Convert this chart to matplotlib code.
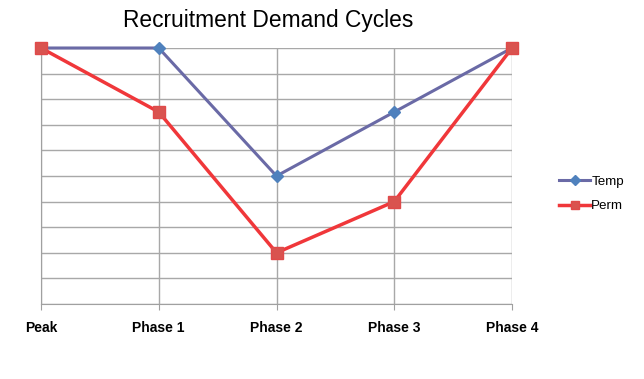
import numpy as np
import matplotlib.pyplot as plt

plt.rcParams['font.family'] = ['Liberation Sans', 'DejaVu Sans']

# Data
phases = ["Peak", "Phase 1", "Phase 2", "Phase 3", "Phase 4"]
temp = [10, 10, 5, 7.5, 10]
perm = [10, 7.5, 2, 4, 10]

fig = plt.figure(figsize=(6.44, 3.79), dpi=100)
ax = fig.add_axes([41/644, 1-304/379, (512-41)/644, (304-48)/379])

x = np.arange(len(phases))
ax.plot(x, temp, color='#6a6aa6', lw=2.2, marker='D', ms=6,
        mfc='#4f81bd', mec='#4f81bd', label='Temp', clip_on=False, zorder=3)
ax.plot(x, perm, color='#f0373a', lw=2.5, marker='s', ms=8,
        mfc='#d9534f', mec='#e04a4a', label='Perm', clip_on=False, zorder=4)

ax.set_xlim(0, 4)
ax.set_ylim(0, 10)
ax.set_yticks(np.arange(0, 11, 1))
ax.set_yticklabels([])
ax.tick_params(axis='y', length=0)
ax.set_xticks(x)
ax.set_xticklabels(phases, fontweight='bold', fontsize=10)
ax.tick_params(axis='x', length=4, color='#a0a0a0', pad=8)
ax.grid(True, color='#a8a8a8', lw=1)
for s in ['top', 'right']:
    ax.spines[s].set_visible(False)
for s in ['left', 'bottom']:
    ax.spines[s].set_color('#a0a0a0')

fig.text(268/644, 1-20/379, "Recruitment Demand Cycles", fontsize=16.4,
         ha='center', va='center')

ax.legend(loc='center left', bbox_to_anchor=(1.075, 0.43), frameon=False,
          fontsize=9.6, handlelength=2.3, labelspacing=0.9, handletextpad=0.1,
          markerscale=0.8)

fig.savefig("out.png", dpi=100)
